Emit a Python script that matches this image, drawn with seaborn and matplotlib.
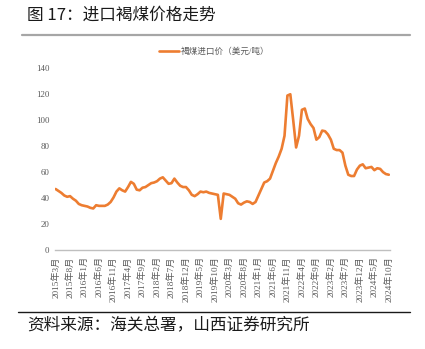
import matplotlib
matplotlib.use("Agg")
import matplotlib.pyplot as plt
from matplotlib.lines import Line2D
import seaborn as sns
import pandas as pd

# ---- data ----
months = [f"{2015 + (2 + k) // 12}年{(2 + k) % 12 + 1}月" for k in range(116)]
price = [
    47, 45.5, 44, 42, 41, 41.5, 39.5, 38, 35.5, 34.5,
    34, 33.5, 32.5, 32, 34.5, 34, 34, 34, 35, 37,
    40.5, 45, 47.5, 46, 45, 48.5, 52.5, 51, 46.5, 46,
    48, 48.5, 50, 51.5, 52, 53, 55, 56, 53.5, 51,
    51.5, 55, 52, 49.5, 48.5, 48.5, 46, 42.5, 41.5, 43,
    45, 44.5, 45, 44, 43.5, 43, 42.5, 24, 43.5, 43,
    42.5, 41, 39.5, 36, 35, 36.5, 37.5, 37, 35.5, 37,
    42, 47, 52, 53, 55, 61, 67, 72, 78, 88,
    119, 120, 100, 79, 88, 108, 109, 101, 97, 94,
    85, 87, 92, 91.5, 89, 85, 78, 77, 77, 75,
    65, 58, 57, 57, 62, 65, 66, 63, 63.5, 64,
    61.5, 63, 62.5, 60, 58.5, 58,
]
tick_labels = [
    "2015年3月", "2015年8月", "2016年1月", "2016年6月", "2016年11月", "2017年4月",
    "2017年9月", "2018年2月", "2018年7月", "2018年12月", "2019年5月", "2019年10月",
    "2020年3月", "2020年8月", "2021年1月", "2021年6月", "2021年11月", "2022年4月",
    "2022年9月", "2023年2月", "2023年7月", "2023年12月", "2024年5月", "2024年10月",
]
y_ticks = [0, 20, 40, 60, 80, 100, 120, 140]
series_name = "褐煤进口价（美元/吨）"

df = pd.DataFrame({"idx": range(len(months)), "month": months, "price": price})

sns.set_style("white")
plt.rcParams["font.family"] = ["Noto Sans CJK SC", "DejaVu Sans"]
axis_font = ["Liberation Serif", "Noto Sans CJK SC"]

W, H = 425, 349
fig = plt.figure(figsize=(W / 100, H / 100), dpi=100)
ax = fig.add_axes([55 / W, 1 - 250 / H, 335 / W, (250 - 68.3) / H])

sns.lineplot(data=df, x="idx", y="price", ax=ax, color="#ED7D31",
             linewidth=1.9, label=series_name)

ax.set_xlim(-0.2, 115.4)
ax.set_ylim(0, 140)
ax.set_xlabel("")
ax.set_ylabel("")

tick_pos = [months.index(t) for t in tick_labels]
ax.set_xticks(tick_pos)
ax.set_xticklabels(tick_labels, rotation=90, fontsize=6.6, color="#595959",
                   family=axis_font)
ax.set_yticks(y_ticks)
ax.set_yticklabels([str(v) for v in y_ticks], fontsize=6.4, color="#595959",
                   family=axis_font)
ax.tick_params(axis="x", length=3, width=0.8, color="#BFBFBF", pad=1.5)
ax.tick_params(axis="y", length=0, pad=4)

for s in ["top", "right", "left"]:
    ax.spines[s].set_visible(False)
ax.spines["bottom"].set_color("#BFBFBF")
ax.spines["bottom"].set_linewidth(1.0)

leg = ax.legend(loc="center", bbox_to_anchor=(214 / W, 1 - 52 / H),
                bbox_transform=fig.transFigure, frameon=False,
                handlelength=2.3, handletextpad=0.2, borderpad=0,
                prop={"family": axis_font, "size": 6.2})
for t in leg.get_texts():
    t.set_color("#595959")

# title and source
fig.text(27 / W, 1 - 15 / H, "图 17：进口褐煤价格走势", fontsize=12,
         color="#1a1a1a", va="center", ha="left")
fig.add_artist(Line2D([22 / W, 410 / W], [1 - 35 / H, 1 - 35 / H],
                      color="#A6A6A6", linewidth=1.6, transform=fig.transFigure))
fig.add_artist(Line2D([18 / W, 410 / W], [1 - 312 / H, 1 - 312 / H],
                      color="#1a1a1a", linewidth=1.0, transform=fig.transFigure))
fig.text(27 / W, 1 - 326 / H, "资料来源：海关总署，山西证券研究所", fontsize=12,
         color="#1a1a1a", va="center", ha="left")

fig.savefig("out.png", dpi=100)
